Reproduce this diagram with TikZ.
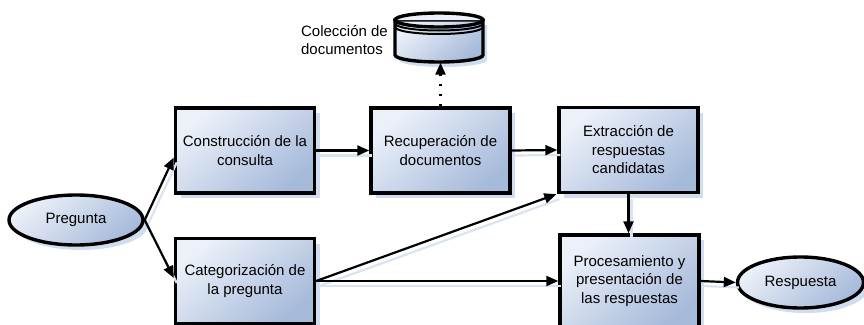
\documentclass[tikz,border=0pt]{standalone}
\usepackage{fontspec}
\setmainfont{Liberation Sans}
\usetikzlibrary{shadows,arrows.meta,calc,shapes.geometric}
\definecolor{boxlight}{RGB}{236,241,249}
\definecolor{boxdark}{RGB}{166,186,218}
\definecolor{shadowc}{RGB}{208,220,239}
\definecolor{arrshadow}{RGB}{218,227,242}
\tikzset{
  txt/.style={font=\fontsize{15}{18.5}\selectfont, align=center},
  fillshade/.style={top color=boxlight, bottom color=boxdark, shading angle=40},
  shadowed/.style={drop shadow={shadow xshift=5pt, shadow yshift=-5pt, fill=shadowc, opacity=1}},
  procbox/.style={txt, rectangle, draw=black, line width=3.4pt, minimum width=139pt,
    minimum height=85pt, inner sep=2pt, fillshade, shadowed},
  term/.style={txt, ellipse, draw=black, line width=3.4pt, inner sep=0pt, fillshade, shadowed},
  tip/.style={-{Triangle[length=12pt,width=10pt]}},
  arr/.style={line width=2.2pt, tip},
  arrsh/.style={line width=2.2pt, draw=arrshadow},
  dotarr/.style={line width=2.2pt, dash pattern=on 2pt off 8pt, tip},
}
\begin{document}
\begin{tikzpicture}[x=1pt,y=-1pt]
\useasboundingbox (0,0) rectangle (864,324);
\clip (0,0) rectangle (864,324);

% terminals
\node[term, minimum width=134pt, minimum height=50pt] (preg) at (76,220) {Pregunta};
\node[term, minimum width=126pt, minimum height=51pt] (resp) at (800.5,282.5) {Respuesta};

% process boxes
\node[procbox] (cons) at (245,150.5) {Construcción de la\\consulta};
\node[procbox] (rec) at (440.5,150.5) {Recuperación de\\documentos};
\node[procbox] (ext) at (628.5,150) {Extracción de\\respuestas\\candidatas};
\node[procbox] (cat) at (245,281) {Categorización de\\la pregunta};
\node[procbox, minimum height=92pt] (proc) at (629.5,281) {Procesamiento y\\presentación de\\las respuestas};

% database
\node[minimum width=88pt, minimum height=50pt, inner sep=0pt] (db) at (439,37.5) {};
\fill[shadowc] (399,25) -- (399,60) arc[start angle=180,end angle=360,x radius=44pt,y radius=7pt] -- (487,25) -- cycle;
\shade[fillshade, draw=black, line width=3.4pt]
  (395,20) -- (395,55) arc[start angle=180,end angle=360,x radius=44pt,y radius=7pt] -- (483,20) -- cycle;
\fill[boxlight] (395,20) -- (483,20) arc[start angle=0,end angle=180,x radius=44pt,y radius=7pt];
\draw[line width=3.4pt] (439,20) ellipse[x radius=44pt,y radius=7pt];
\draw[line width=2pt] (395,23.5) arc[start angle=180,end angle=360,x radius=44pt,y radius=7pt];
\draw[line width=2pt] (395,27) arc[start angle=180,end angle=360,x radius=44pt,y radius=7pt];
\node[txt, align=left, anchor=east, inner sep=0pt] (lbl) at (388,40) {Colección de\\documentos};

% connector shadows
\begin{scope}[transform canvas={xshift=3pt,yshift=-5pt}]
\draw[arrsh] (preg.east) -- ([yshift=-7pt]cons.west);
\draw[arrsh] (preg.east) -- ([yshift=3pt]cat.west);
\draw[arrsh] (cons.east) -- (rec.west);
\draw[arrsh] (rec.east) -- (ext.west);
\draw[arrsh] (cat.east) -- ([xshift=-1pt]ext.south west);
\draw[arrsh] (cat.east) -- (proc.west);
\draw[arrsh] (ext.south) -- (ext.south |- proc.north);
\draw[arrsh] (proc.east) -- (resp.west);
\end{scope}

% connectors
\draw[arr] (preg.east) -- ([yshift=-7pt]cons.west);
\draw[arr] (preg.east) -- ([yshift=3pt]cat.west);
\draw[arr] (cons.east) -- (rec.west);
\draw[arr] (rec.east) -- (ext.west);
\draw[arr] (cat.east) -- ([xshift=-1pt]ext.south west);
\draw[arr] (cat.east) -- (proc.west);
\draw[arr] (ext.south) -- (ext.south |- proc.north);
\draw[arr] (proc.east) -- (resp.west);
\draw[dotarr] (rec.north) -- (rec.north |- db.south);
\end{tikzpicture}
\end{document}
